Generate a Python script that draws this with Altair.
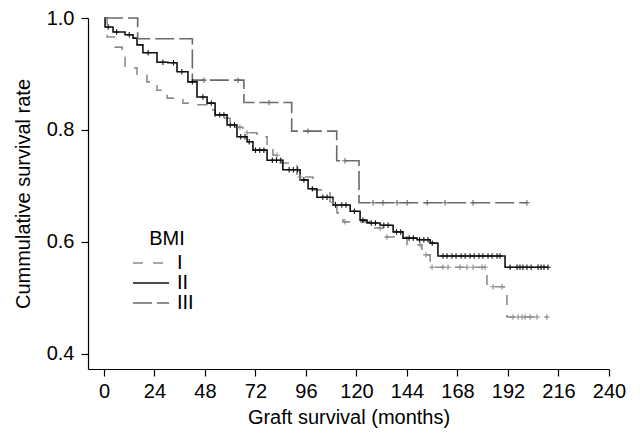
import altair as alt
import pandas as pd

groups = ["I", "II", "III"]

# Kaplan-Meier step curves (time in months, survival)
t_I = [0, 1.5, 5.2, 8.6, 10, 15.7, 20.4, 25.2, 30, 37.5, 44.2, 49, 52.8, 59.9, 66, 72.7, 77.5,
       80.3, 83.7, 91.7, 99.3, 107.4, 110.7, 113.6, 126.4, 132.6, 144, 151.1, 155, 182, 191.5, 210.5]
s_I = [1.0, 0.966, 0.948, 0.930, 0.911, 0.898, 0.886, 0.871, 0.857, 0.848, 0.845, 0.836, 0.821,
       0.805, 0.795, 0.788, 0.773, 0.755, 0.741, 0.716, 0.693, 0.671, 0.652, 0.636, 0.625, 0.609,
       0.595, 0.577, 0.555, 0.520, 0.466, 0.466]

t_II = [0, 0.5, 4.3, 10, 13.8, 15.7, 18.5, 25.2, 30.4, 34.7, 39.9, 44.2, 49, 52.8, 58.5, 63.2, 68,
        70.8, 77.5, 85, 93.2, 97, 101.2, 108.8, 117, 121.7, 125, 131.2, 137.4, 142.1, 148.8, 155,
        158.7, 190.6, 211]
s_II = [1.0, 0.984, 0.975, 0.970, 0.964, 0.952, 0.938, 0.921, 0.920, 0.904, 0.886, 0.859, 0.848,
        0.827, 0.809, 0.788, 0.779, 0.764, 0.746, 0.729, 0.711, 0.695, 0.680, 0.666, 0.655, 0.639,
        0.634, 0.630, 0.618, 0.607, 0.604, 0.598, 0.575, 0.555, 0.555]

t_III = [0, 16, 42, 66.5, 89.2, 110.6, 121.2, 201]
s_III = [1.0, 0.963, 0.889, 0.849, 0.798, 0.745, 0.670, 0.670]

# censoring times
c_I = [64.6, 68, 82.2, 93.2, 108.8, 114.5, 131.2, 134.5, 150.2, 153, 155.9, 161.1, 163.5, 169.2,
       172.5, 175.4, 179.7, 181.1, 184.9, 189.2, 194.4, 196.8, 198.7, 200.1, 202.5, 205.8, 210.5]
c_II = [2, 6, 12, 21, 28, 33, 37, 42, 47, 51, 55, 57, 60, 62, 65, 67, 69, 72, 74, 76, 80, 82, 84,
        88, 90, 92, 95, 99, 104, 106, 110, 113, 115, 119, 123, 127, 129, 133, 135, 139, 141, 145,
        147, 150, 152, 154, 156, 161.1, 163, 165.4, 167.3, 169.7, 171.6, 174, 175.9, 178.2, 180.1,
        182.5, 184.4, 186.8, 188.2, 193, 196.3, 197.7, 199.1, 201, 203, 206.3, 207.7, 209.1, 211]
c_III = [47.5, 63.7, 78.4, 96.9, 114.5, 127.9, 132.6, 139.3, 144.1, 153.6, 162.1, 175.4, 201]

x_ticks = list(range(0, 241, 24))
y_ticks = [0.4, 0.6, 0.8, 1.0]

colors = ["#8c8c8c", "#111111", "#6a6a6a"]
dashes = [[10, 10], [1, 0], [19, 5]]

line_rows = []
cens_rows = []
for g, ts, ss, cs in [("I", t_I, s_I, c_I), ("II", t_II, s_II, c_II), ("III", t_III, s_III, c_III)]:
    for i, (t, s) in enumerate(zip(ts, ss)):
        line_rows.append({"group": g, "t": t, "s": s, "order": i})
    for c in cs:
        val = ss[0]
        for t, s in zip(ts, ss):
            if t <= c:
                val = s
        cens_rows.append({"group": g, "t": c, "s": val})

lines_df = pd.DataFrame(line_rows)
cens_df = pd.DataFrame(cens_rows)

FONT = "Liberation Sans"
FS = 20

x_enc = alt.X("t:Q", scale=alt.Scale(domain=[-7.6, 240], nice=False, zero=False),
              axis=alt.Axis(values=x_ticks, title="Graft survival (months)", grid=False,
                            tickSize=7, labelPadding=5, titlePadding=6, labelFlush=False))
y_enc = alt.Y("s:Q", scale=alt.Scale(domain=[0.3732, 1.0], nice=False, zero=False),
              axis=alt.Axis(values=y_ticks, format=".1f", title="Cummulative survival rate",
                            grid=False, tickSize=7, labelPadding=7, titlePadding=13,
                            labelFlush=False))

leg = alt.Legend(title="BMI", orient="none", legendX=53, legendY=211,
                 symbolType="M-3,0L3,0", symbolSize=144, symbolStrokeWidth=1.6,
                 labelFontSize=FS, titleFontSize=FS, titleFontWeight="normal",
                 titleAnchor="middle", labelOffset=16, rowPadding=0, titlePadding=4,
                 labelFont=FONT, titleFont=FONT, labelColor="black", titleColor="black")

lines = alt.Chart(lines_df).mark_line(interpolate="step-after", strokeWidth=1.6).encode(
    x=x_enc,
    y=y_enc,
    color=alt.Color("group:N", scale=alt.Scale(domain=groups, range=colors), legend=leg),
    strokeDash=alt.StrokeDash("group:N", scale=alt.Scale(domain=groups, range=dashes), legend=leg),
    order="order:Q",
)

marks = alt.Chart(cens_df).mark_point(shape="M0,-1L0,1M-1,0L1,0", size=30, strokeWidth=1.1,
                                      filled=False, opacity=1).encode(
    x="t:Q",
    y="s:Q",
    color=alt.Color("group:N", scale=alt.Scale(domain=groups, range=colors), legend=None),
)

chart = alt.layer(lines, marks).properties(
    width=521, height=351,
    autosize=alt.AutoSizeParams(type="none"),
    padding={"left": 80, "top": 10, "right": 23, "bottom": 61},
).configure_view(stroke=None).configure_axis(
    labelFont=FONT, titleFont=FONT, labelFontSize=FS, titleFontSize=FS,
    titleFontWeight="normal", labelColor="black", titleColor="black",
    domainColor="black", tickColor="black", domainWidth=1.2, tickWidth=1.2,
)

chart.save("out.html", embed_options={"renderer": "svg", "actions": False})
